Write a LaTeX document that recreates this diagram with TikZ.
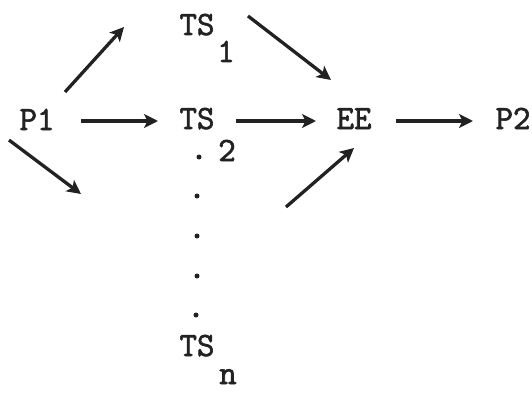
\documentclass[tikz,border=0pt]{standalone}
\usepackage{fontspec}
\newfontfamily\twfont[FakeBold=1.8]{Latin Modern Mono}
\usetikzlibrary{arrows.meta}
\definecolor{ink}{HTML}{222222}
\begin{document}
\begin{tikzpicture}[x=1pt,y=-1pt,
  lbl/.style={font=\fontsize{34}{34}\twfont, text=ink, inner sep=0pt, anchor=base, text depth=0pt},
  dotmark/.style={circle, fill=ink, inner sep=0pt, minimum size=5pt},
  arr/.style={line width=3.3pt, draw=ink, -{Stealth[length=14pt,width=14pt,inset=3.5pt]}}]
\useasboundingbox (0,0) rectangle (532,393);
% main labels
\node[lbl] (ts1) at (197,35) {TS};
\node[lbl] (s1) at (226,62) {1};
\node[lbl] (p1) at (37,130) {P1};
\node[lbl] (ts2) at (197,129) {TS};
\node[lbl] (s2) at (227,161) {2};
\node[lbl] (ee) at (354,129) {EE};
\node[lbl] (p2) at (513,129) {P2};
\node[lbl] (tsn) at (197,356) {TS};
\node[lbl] (sn) at (228,384) {n};
% dots
\node[dotmark] (d0) at (199,157) {};
\node[dotmark] (d1) at (197,196) {};
\node[dotmark] (d2) at (197,236) {};
\node[dotmark] (d3) at (197,276) {};
\node[dotmark] (d4) at (196,315) {};
% arrow end points
\coordinate (a1s) at (81,121);
\coordinate (a1e) at (158,121);
\coordinate (a2s) at (236,121);
\coordinate (a2e) at (316,121);
\coordinate (a3s) at (396,121);
\coordinate (a3e) at (473,121);
\coordinate (b1s) at (65,92);
\coordinate (b1e) at (124,27);
\coordinate (b2s) at (9,140);
\coordinate (b2e) at (81,194);
\coordinate (b3s) at (248,16);
\coordinate (b3e) at (331,80);
\coordinate (b4s) at (286,207);
\coordinate (b4e) at (354,148);
\draw[arr] (a1s) -- (a1e);
\draw[arr] (a2s) -- (a2e);
\draw[arr] (a3s) -- (a3e);
\draw[arr] (b1s) -- (b1e);
\draw[arr] (b2s) -- (b2e);
\draw[arr] (b3s) -- (b3e);
\draw[arr] (b4s) -- (b4e);
\end{tikzpicture}
\end{document}
